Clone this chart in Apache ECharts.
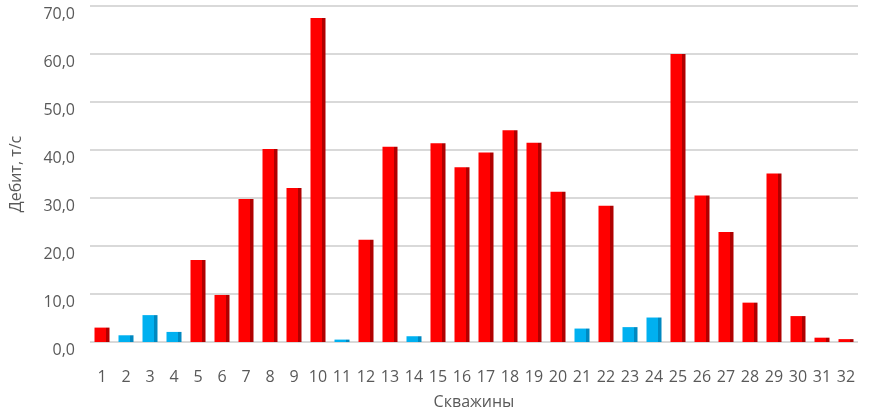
<!DOCTYPE html>
<html>
<head>
<meta charset="utf-8">
<script src="https://cdn.jsdelivr.net/npm/echarts@6/dist/echarts.min.js"></script>
<style>
html,body{margin:0;padding:0;background:#fff;}
#chart{width:870px;height:415px;}
</style>
</head>
<body>
<div id="chart"></div>
<script>
const categories = ['1','2','3','4','5','6','7','8','9','10','11','12','13','14','15','16','17','18','19','20','21','22','23','24','25','26','27','28','29','30','31','32'];
const debit = [3.0,1.4,5.6,2.1,17.1,9.8,29.8,40.2,32.1,67.5,0.5,21.3,40.7,1.2,41.4,36.4,39.5,44.1,41.5,31.3,2.8,28.4,3.1,5.1,60.0,30.5,22.9,8.2,35.1,5.4,0.9,0.6];
const kind = ['r','b','b','b','r','r','r','r','r','r','b','r','r','b','r','r','r','r','r','r','b','r','b','b','r','r','r','r','r','r','r','r'];
const yTicks = {min:0, max:70, interval:10};

function grad(front, side){
  return {type:'linear', x:0, y:0, x2:1, y2:0, colorStops:[
    {offset:0, color:front},{offset:0.76, color:front},
    {offset:0.76, color:side},{offset:1, color:side}]};
}
const redFill = grad('#ff0000','#b00000');
const blueFill = grad('#00b0f0','#0088c0');

const chart = echarts.init(document.getElementById('chart'));
chart.setOption({
  animation:false,
  textStyle:{fontFamily:'Open Sans'},
  grid:{left:78, right:12, top:6, bottom:67, containLabel:false},
  xAxis:{
    type:'category', data:categories,
    name:'Скважины', nameLocation:'middle', nameGap:52,
    nameTextStyle:{color:'#595959', fontSize:16, fontFamily:'Open Sans'},
    axisLine:{show:false}, axisTick:{show:false},
    axisLabel:{color:'#595959', fontSize:16, margin:27, interval:0}
  },
  yAxis:{
    type:'value', min:yTicks.min, max:yTicks.max, interval:yTicks.interval,
    name:'Дебит, т/с', nameLocation:'middle', nameGap:66, nameRotate:90,
    nameTextStyle:{color:'#595959', fontSize:16, fontFamily:'Open Sans'},
    axisLine:{show:false}, axisTick:{show:false},
    axisLabel:{color:'#595959', fontSize:16, margin:15, verticalAlign:'top',
      formatter:v=>v.toFixed(1).replace('.',',')},
    splitLine:{lineStyle:{color:'#d9d9d9', width:2}}
  },
  series:[{
    type:'bar', barWidth:15,
    data:debit.map((v,i)=>({value:v, itemStyle:{color: kind[i]==='b'?blueFill:redFill}}))
  }]
});
</script>
</body>
</html>
